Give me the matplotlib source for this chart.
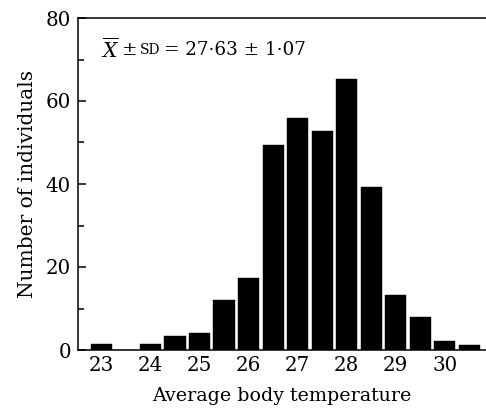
import matplotlib
matplotlib.use("Agg")
import matplotlib.pyplot as plt

temps = [23.0, 23.5, 24.0, 24.5, 25.0, 25.5, 26.0, 26.5, 27.0, 27.5, 28.0, 28.5, 29.0, 29.5, 30.0, 30.5]
counts = [1.5, 0, 1.5, 3.3, 4.2, 12.0, 17.3, 49.3, 56.0, 52.7, 65.2, 39.2, 13.2, 8.0, 2.2, 1.3]
xticks = [23, 24, 25, 26, 27, 28, 29, 30]
yticks = [0, 20, 40, 60, 80]
yminor = [10, 30, 50, 70]

plt.rcParams['font.family'] = ['DejaVu Serif']
fig = plt.figure(figsize=(4.86, 4.13), dpi=100)
W, H = 486, 413
ax = fig.add_axes([78 / W, 1 - 350 / H, (486 - 78) / W, (350 - 18) / H])
ax.bar(temps, counts, width=0.435, color='black', edgecolor='black', linewidth=0.3)
ax.set_xlim(22.52, 30.84)
ax.set_ylim(0, 80)
ax.spines['right'].set_visible(False)
for s in ['left', 'bottom', 'top']:
    ax.spines[s].set_linewidth(1.1)
ax.set_xticks(xticks)
ax.set_xticklabels([str(t) for t in xticks])
ax.set_yticks(yticks)
ax.set_yticks(yminor, minor=True)
ax.tick_params(axis='x', length=0, labelsize=14.3, pad=4)
ax.tick_params(axis='y', which='major', direction='in', length=6, width=1.1, labelsize=14.3, pad=5)
ax.tick_params(axis='y', which='minor', direction='in', length=4, width=1.1)
ax.set_xlabel('Average body temperature', fontsize=13.7, labelpad=9)
ax.set_ylabel('Number of individuals', fontsize=14.5, labelpad=6)

fig.canvas.draw()
r = fig.canvas.get_renderer()
t1 = ax.text(22.99, 72.3, r'$\overline{X}$', fontsize=14.5, va='center', ha='left',
             math_fontfamily='dejavuserif')
fig.canvas.draw()
x0 = t1.get_window_extent(r).x1
def place(s, size, gap=3):
    global x0
    xd, _ = ax.transData.inverted().transform((x0 + gap, 0))
    t = ax.text(xd, 72.3, s, fontsize=size, va='center', ha='left')
    fig.canvas.draw()
    x0 = t.get_window_extent(r).x1
    return t
place('±', 13.2)
place('SD', 10, gap=2)
place('= 27·63 ± 1·07', 13.2, gap=4)

fig.savefig('out.png', dpi=100)
